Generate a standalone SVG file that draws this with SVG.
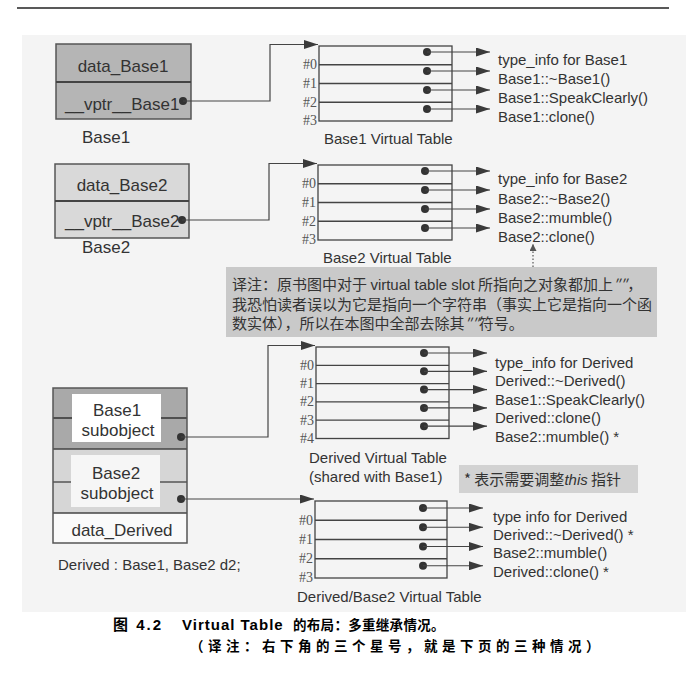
<svg xmlns="http://www.w3.org/2000/svg" width="694" height="681" viewBox="0 0 694 681">
<defs>
<marker id="arr" markerUnits="userSpaceOnUse" markerWidth="15" markerHeight="9" refX="14" refY="4.5" orient="auto"><path d="M0,0 L14,4.5 L0,9 z" fill="#3a3a3a"/></marker>
<marker id="arrS" markerUnits="userSpaceOnUse" markerWidth="8" markerHeight="8" refX="7" refY="3.5" orient="auto"><path d="M0,0 L7,3.5 L0,7 z" fill="#555"/></marker>
<style>
.t{font-family:"Liberation Sans",Arial,sans-serif;fill:#333}
.box{font-size:17px}
.e{font-size:15px}
.h{font-family:"Liberation Serif","Times New Roman",serif;font-size:14px;fill:#555;text-anchor:end}
.tb{fill:none;stroke:#444;stroke-width:1.3}
.rl{stroke:#444;stroke-width:1.3}
.c{fill:none;stroke:#444;stroke-width:1.2}
.ar{stroke:#444;stroke-width:1.2;marker-end:url(#arr)}
.dot{fill:#333}
.cjk{font-family:"Noto Sans CJK SC",sans-serif;fill:#333;font-size:15px}
.cap{font-family:"Liberation Sans","Noto Sans CJK SC",sans-serif;font-weight:bold;fill:#000;font-size:15px}
.capc{font-family:"Noto Sans CJK SC",sans-serif;font-weight:bold;fill:#000;font-size:13.5px}
</style>
</defs>
<rect x="0" y="0" width="694" height="681" fill="#fff"/>
<line x1="17" y1="8" x2="669" y2="8" stroke="#222" stroke-width="1.5"/>
<rect x="22" y="35" width="664" height="577" fill="#f4f4f4"/>

<g id="base1">
<rect x="56" y="44" width="135" height="75" fill="#b5b5b5" stroke="#555" stroke-width="1.5"/>
<line x1="56" y1="82" x2="191" y2="82" stroke="#444" stroke-width="2"/>
<text class="t box" x="123" y="72" text-anchor="middle">data_Base1</text>
<text class="t box" x="65" y="110">__vptr__Base1</text>
<circle class="dot" cx="183" cy="101" r="4"/>
<text class="t box" x="82" y="143">Base1</text>
</g>

<g id="base2">
<rect x="55" y="164" width="134" height="74" fill="#d9d9d9" stroke="#555" stroke-width="1.5"/>
<line x1="55" y1="201" x2="189" y2="201" stroke="#444" stroke-width="2"/>
<text class="t box" x="122" y="191" text-anchor="middle">data_Base2</text>
<text class="t box" x="65" y="227">__vptr__Base2</text>
<circle class="dot" cx="182" cy="220" r="4"/>
<text class="t box" x="82" y="253">Base2</text>
</g>

<g id="derived">
<rect x="53" y="388" width="134" height="61" fill="#a9a9a9"/>
<rect x="53" y="449" width="134" height="64" fill="#d6d6d6"/>
<rect x="53" y="513" width="134" height="30" fill="#fafafa"/>
<line x1="53" y1="418" x2="187" y2="418" stroke="#333" stroke-width="1.5"/>
<line x1="53" y1="482" x2="187" y2="482" stroke="#555" stroke-width="1.5"/>
<line x1="53" y1="449" x2="187" y2="449" stroke="#444" stroke-width="1.5"/>
<line x1="53" y1="513" x2="187" y2="513" stroke="#444" stroke-width="1.5"/>
<rect x="72" y="394" width="89" height="48" fill="#fff"/>
<rect x="71" y="455" width="89" height="52" fill="#f6f6f6"/>
<rect x="53" y="388" width="134" height="155" fill="none" stroke="#555" stroke-width="1.5"/>
<text class="t box" x="117" y="416" text-anchor="middle">Base1</text>
<text class="t box" x="118" y="436" text-anchor="middle">subobject</text>
<text class="t box" x="116" y="479" text-anchor="middle">Base2</text>
<text class="t box" x="117" y="499" text-anchor="middle">subobject</text>
<text class="t box" x="122" y="536" text-anchor="middle">data_Derived</text>
<circle class="dot" cx="181" cy="437" r="4"/>
<circle class="dot" cx="181" cy="499" r="4"/>
<text class="t e" x="58" y="570">Derived : Base1, Base2 d2;</text>
</g>

<g id="vt1">
<rect class="tb" x="319" y="46" width="133" height="75"/>
<line class="rl" x1="319" y1="64.75" x2="452" y2="64.75"/>
<line class="rl" x1="319" y1="83.5" x2="452" y2="83.5"/>
<line class="rl" x1="319" y1="102.25" x2="452" y2="102.25"/>
<text class="h" x="317" y="69">#0</text>
<text class="h" x="317" y="88">#1</text>
<text class="h" x="317" y="107">#2</text>
<text class="h" x="317" y="125">#3</text>
<g class="dot"><circle cx="427" cy="52" r="4"/><circle cx="427" cy="71" r="4"/><circle cx="427" cy="90" r="4"/><circle cx="427" cy="109" r="4"/></g>
<text class="t e" x="498" y="65">type_info for Base1</text>
<text class="t e" x="498" y="84">Base1::~Base1()</text>
<text class="t e" x="498" y="103">Base1::SpeakClearly()</text>
<text class="t e" x="498" y="122">Base1::clone()</text>
<text class="t e" x="324" y="144">Base1 Virtual Table</text>
</g>

<g id="vt2">
<rect class="tb" x="318" y="165" width="134" height="75"/>
<line class="rl" x1="318" y1="183.75" x2="452" y2="183.75"/>
<line class="rl" x1="318" y1="202.5" x2="452" y2="202.5"/>
<line class="rl" x1="318" y1="221.25" x2="452" y2="221.25"/>
<text class="h" x="316" y="188">#0</text>
<text class="h" x="316" y="207">#1</text>
<text class="h" x="316" y="226">#2</text>
<text class="h" x="316" y="244">#3</text>
<g class="dot"><circle cx="425" cy="171" r="4"/><circle cx="425" cy="190" r="4"/><circle cx="425" cy="209" r="4"/><circle cx="425" cy="228" r="4"/></g>
<text class="t e" x="498" y="184">type_info for Base2</text>
<text class="t e" x="498" y="204">Base2::~Base2()</text>
<text class="t e" x="498" y="223">Base2::mumble()</text>
<text class="t e" x="498" y="242">Base2::clone()</text>
<text class="t e" x="323" y="263">Base2 Virtual Table</text>
</g>

<g id="note">
<rect x="226" y="267" width="431" height="70" fill="#c9c9c9"/>
<text class="cjk" x="232" y="290">译注：原书图中对于 <tspan font-family="Liberation Sans,Arial,sans-serif">virtual table slot</tspan> 所指向之对象都加上<tspan font-style="italic">″″</tspan>，</text>
<text class="cjk" x="232" y="310">我恐怕读者误以为它是指向一个字符串（事实上它是指向一个函</text>
<text class="cjk" x="232" y="329">数实体），所以在本图中全部去除其<tspan font-style="italic">″″</tspan>符号。</text>
</g>

<g id="vt3">
<rect class="tb" x="316" y="347" width="133" height="91.5"/>
<line class="rl" x1="316" y1="365.3" x2="449" y2="365.3"/>
<line class="rl" x1="316" y1="383.6" x2="449" y2="383.6"/>
<line class="rl" x1="316" y1="401.9" x2="449" y2="401.9"/>
<line class="rl" x1="316" y1="420.2" x2="449" y2="420.2"/>
<text class="h" x="314" y="370">#0</text>
<text class="h" x="314" y="388">#1</text>
<text class="h" x="314" y="406">#2</text>
<text class="h" x="314" y="425">#3</text>
<text class="h" x="314" y="443">#4</text>
<g class="dot"><circle cx="424" cy="353" r="4"/><circle cx="424" cy="371.3" r="4"/><circle cx="424" cy="389.6" r="4"/><circle cx="424" cy="407.9" r="4"/><circle cx="424" cy="426.2" r="4"/></g>
<text class="t e" x="495" y="368">type_info for Derived</text>
<text class="t e" x="495" y="386">Derived::~Derived()</text>
<text class="t e" x="495" y="405">Base1::SpeakClearly()</text>
<text class="t e" x="495" y="423">Derived::clone()</text>
<text class="t e" x="495" y="442">Base2::mumble() *</text>
<text class="t e" x="309" y="463">Derived Virtual Table</text>
<text class="t e" x="309" y="482">(shared with Base1)</text>
</g>

<g id="starnote">
<rect x="459" y="465" width="179" height="28" fill="#d2d2d2"/>
<text class="cjk" x="464" y="485">* 表示需要调整<tspan font-family="Liberation Sans,Arial,sans-serif" font-style="italic">this</tspan> 指针</text>
</g>

<g id="vt4">
<rect class="tb" x="315" y="501" width="132" height="77"/>
<line class="rl" x1="315" y1="520.25" x2="447" y2="520.25"/>
<line class="rl" x1="315" y1="539.5" x2="447" y2="539.5"/>
<line class="rl" x1="315" y1="558.75" x2="447" y2="558.75"/>
<text class="h" x="313" y="525">#0</text>
<text class="h" x="313" y="544">#1</text>
<text class="h" x="313" y="563">#2</text>
<text class="h" x="313" y="582">#3</text>
<g class="dot"><circle cx="423" cy="508" r="4"/><circle cx="423" cy="527.25" r="4"/><circle cx="423" cy="546.5" r="4"/><circle cx="423" cy="565.75" r="4"/></g>
<text class="t e" x="493" y="522">type info for Derived</text>
<text class="t e" x="493" y="540">Derived::~Derived() *</text>
<text class="t e" x="493" y="558">Base2::mumble()</text>
<text class="t e" x="493" y="577">Derived::clone() *</text>
<text class="t e" x="297" y="602">Derived/Base2 Virtual Table</text>
</g>

<g id="connectors">
<path class="c" d="M183,101 H270 V44.5 H318" marker-end="url(#arr)"/>
<path class="c" d="M182,220 H269 V163.5 H317" marker-end="url(#arr)"/>
<path class="c" d="M181,437 H268 V345.5 H315" marker-end="url(#arr)"/>
<path class="c" d="M181,499 H314" marker-end="url(#arr)"/>
<line class="ar" x1="427" y1="52" x2="490" y2="52"/>
<line class="ar" x1="427" y1="71" x2="490" y2="71"/>
<line class="ar" x1="427" y1="90" x2="490" y2="90"/>
<line class="ar" x1="427" y1="109" x2="490" y2="109"/>
<line class="ar" x1="425" y1="171" x2="490" y2="171"/>
<line class="ar" x1="425" y1="190" x2="490" y2="190"/>
<line class="ar" x1="425" y1="209" x2="490" y2="209"/>
<line class="ar" x1="425" y1="228" x2="490" y2="228"/>
<line class="ar" x1="424" y1="353" x2="487" y2="353"/>
<line class="ar" x1="424" y1="371.3" x2="487" y2="371.3"/>
<line class="ar" x1="424" y1="389.6" x2="487" y2="389.6"/>
<line class="ar" x1="424" y1="407.9" x2="487" y2="407.9"/>
<line class="ar" x1="424" y1="426.2" x2="487" y2="426.2"/>
<line class="ar" x1="423" y1="508" x2="483" y2="508"/>
<line class="ar" x1="423" y1="527.25" x2="483" y2="527.25"/>
<line class="ar" x1="423" y1="546.5" x2="483" y2="546.5"/>
<line class="ar" x1="423" y1="565.75" x2="483" y2="565.75"/>
<line x1="533" y1="267" x2="533" y2="244" stroke="#555" stroke-width="1.2" stroke-dasharray="1.5,2" marker-end="url(#arrS)"/>
</g>

<g id="caption">
<text class="cap" x="113" y="630" letter-spacing="2">图 4.2</text>
<text class="cap" x="182" y="630" letter-spacing="1">Virtual Table</text>
<text class="capc" x="293" y="630" letter-spacing="0.3">的布局：多重继承情况。</text>
<text class="capc" x="190" y="651" letter-spacing="4.5">（译注：右下角的三个星号，就是下页的三种情况）</text>
</g>
</svg>
